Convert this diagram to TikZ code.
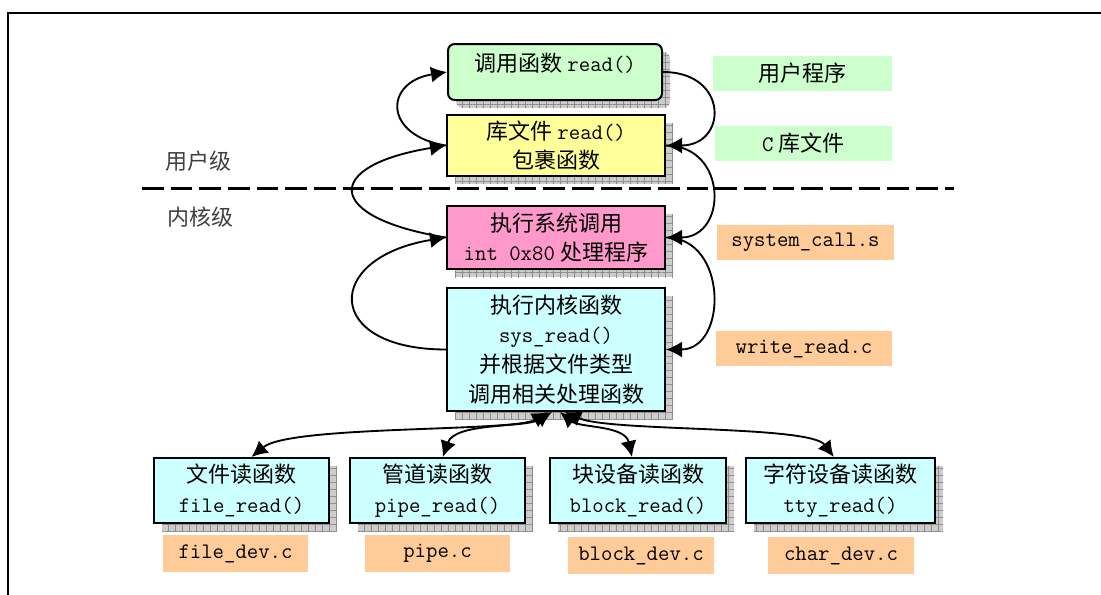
\documentclass[tikz,border=0pt]{standalone}
\usepackage{fontspec}
\newfontfamily\cjk{Noto Sans CJK SC}
\usetikzlibrary{arrows.meta,patterns.meta}
\newcommand\zhs[1]{{\cjk\fontsize{16.5pt}{22.3pt}\selectfont #1}}
\newcommand\gp{\hspace{4pt}}
\definecolor{usergreen}{HTML}{CCFFCC}
\definecolor{libyellow}{HTML}{FFFF99}
\definecolor{syspink}{HTML}{FF99CC}
\definecolor{kcyan}{HTML}{CCFFFF}
\definecolor{srcorange}{HTML}{FFCC99}
\tikzset{
  boxfont/.style={font=\fontsize{16.6pt}{22.3pt}\selectfont\ttfamily},
  shad/.style={
    preaction={draw=none, fill=black!20, transform canvas={shift={(6pt,-6pt)}}},
    preaction={draw=none, pattern={Hatch[distance=5.25pt,line width=0.5pt]}, pattern color=black!45, transform canvas={shift={(6pt,-6pt)}}}},
  procbox/.style={shad, draw=black, line width=1.5pt, boxfont, align=center, inner sep=0pt},
  tag/.style={boxfont, inner sep=0pt, align=center},
  lvl/.style={font=\cjk\fontsize{16.5pt}{20pt}\selectfont, text=black!75, inner sep=0pt},
  flow/.style={line width=1.4pt, -{Latex[length=12pt,width=12pt]}},
  bflow/.style={line width=1.4pt, {Latex[length=12pt,width=12pt]}-{Latex[length=12pt,width=12pt]}},
}
\begin{document}
\begin{tikzpicture}[x=0.75pt,y=-0.75pt]
\useasboundingbox (0,0) rectangle (1101,594);
% frame
\coordinate (fbl) at (8,604);
\coordinate (ftl) at (8,13);
\coordinate (ftr) at (1112,13);
\draw[line width=1.5pt] (fbl) -- (ftl) -- (ftr);

% level separator
\coordinate (dl) at (142,188);
\coordinate (dr) at (954,188);
\draw[line width=2.25pt, dash pattern=on 16.25pt off 5.25pt] (dl) -- (dr);
\node[lvl] (ulevel) at (198,161) {用户级};
\node[lvl] (klevel) at (200,217) {内核级};

% main column
\node[procbox, fill=usergreen, rounded corners=5pt, minimum width=160.5pt, minimum height=42pt] (user) at (555,72) {};
\node[tag] (usertxt) at (555,63) {\zhs{调用函数}\gp read()};
\node[procbox, fill=libyellow, minimum width=163.5pt, minimum height=45.75pt] (lib) at (556,145.5) {\zhs{库文件}\gp read()\\\zhs{包裹函数}};
\node[procbox, fill=syspink, minimum width=163.5pt, minimum height=47.25pt] (sys) at (556,237.5) {\zhs{执行系统调用}\\int 0x80\gp\zhs{处理程序}};
\node[procbox, fill=kcyan, minimum width=163.5pt, minimum height=92.25pt] (kern) at (556,349.5) {\zhs{执行内核函数}\\sys\_read()\\\zhs{并根据文件类型}\\\zhs{调用相关处理函数}};

% bottom row
\node[procbox, fill=kcyan, minimum width=131.25pt, minimum height=48.75pt] (fr) at (241.5,490.5) {\zhs{文件读函数}\\file\_read()};
\node[procbox, fill=kcyan, minimum width=131.25pt, minimum height=48.75pt] (pr) at (437.5,490.5) {\zhs{管道读函数}\\pipe\_read()};
\node[procbox, fill=kcyan, minimum width=132pt, minimum height=48.75pt] (br) at (638,490.5) {\zhs{块设备读函数}\\block\_read()};
\node[procbox, fill=kcyan, minimum width=141.75pt, minimum height=48.75pt] (tr) at (840.5,490.5) {\zhs{字符设备读函数}\\tty\_read()};

% source file tags
\node[tag, fill=srcorange, minimum width=108.75pt, minimum height=27.75pt] (fdev) at (235.5,553.5) {file\_dev.c};
\node[tag, fill=srcorange, minimum width=108.75pt, minimum height=27.75pt] (pdev) at (437.5,553.5) {pipe.c};
\node[tag, fill=srcorange, minimum width=109.5pt, minimum height=27.75pt] (bdev) at (641,555.5) {block\_dev.c};
\node[tag, fill=srcorange, minimum width=109.5pt, minimum height=27.75pt] (cdev) at (841,555.5) {char\_dev.c};

% right tags
\node[tag, fill=usergreen, minimum width=134.25pt, minimum height=26.25pt] (tuser) at (802.5,73.5) {\zhs{用户程序}};
\node[tag, fill=usergreen, minimum width=132.75pt, minimum height=26.25pt] (tlib) at (803.5,143.5) {C\gp\zhs{库文件}};
\node[tag, fill=srcorange, minimum width=132.75pt, minimum height=26.25pt] (tsys) at (805.5,242.5) {system\_call.s};
\node[tag, fill=srcorange, minimum width=132pt, minimum height=26.25pt] (tkern) at (804,348.5) {write\_read.c};

% call path (right side, downward)
\draw[flow] (user.east) .. controls +(66,0) and +(62,0) .. (lib.east);
\draw[flow] (lib.east) .. controls +(62,0) and +(62,0) .. (sys.east);
\draw[flow] (sys.east) .. controls +(62,0) and +(62,0) .. (kern.east);

% return path (left side, upward)
\draw[flow] (kern.west) .. controls +(-123,0) and +(-123,20) .. (sys.west);
\draw[flow] (sys.west) .. controls +(-123,-20) and +(-123,20) .. (lib.west);
\draw[flow] (lib.west) .. controls +(-63,-10) and +(-63,10) .. (user.west);

% dispatch to device read functions
\draw[bflow] ([xshift=-6pt]kern.south) .. controls (515,432) and (290,425) .. ([xshift=7.5pt]fr.north);
\draw[bflow] ([xshift=-3pt]kern.south) .. controls (525,428) and (455,422) .. ([xshift=4pt]pr.north);
\draw[bflow] ([xshift=3pt]kern.south) .. controls (580,428) and (625,425) .. ([xshift=-4.5pt]br.north);
\draw[bflow] ([xshift=6.75pt]kern.south) .. controls (610,432) and (810,425) .. ([xshift=-5pt]tr.north);
\end{tikzpicture}
\end{document}
